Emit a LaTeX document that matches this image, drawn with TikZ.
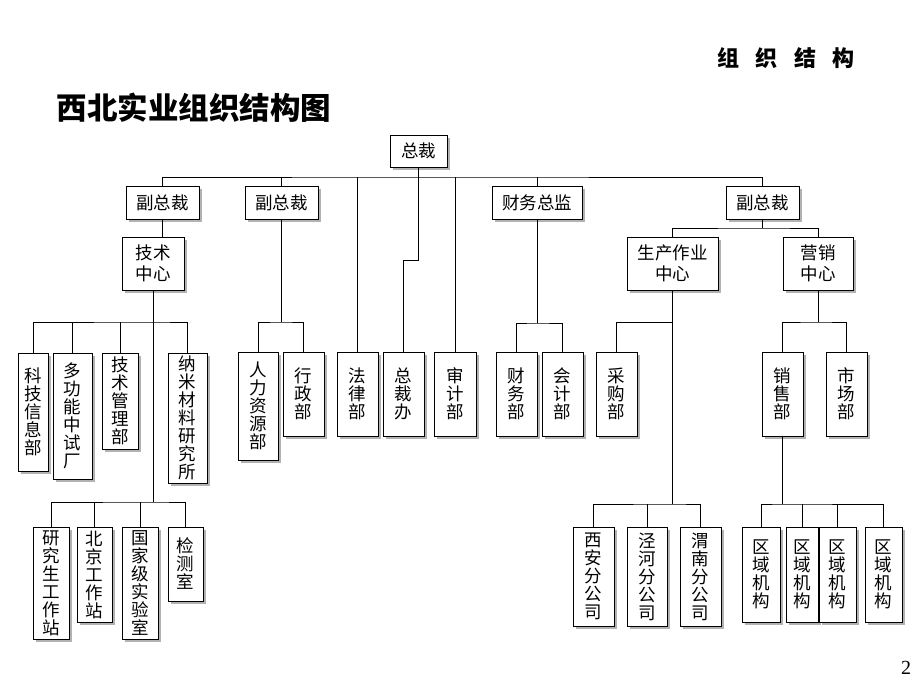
\documentclass[tikz,border=0pt]{standalone}
\usepackage{fontspec}
\setmainfont{Liberation Serif}
\newfontfamily\cjk{Noto Sans CJK SC}
\usetikzlibrary{shadows}

\begin{document}
\begin{tikzpicture}[
  x=1pt, y=-1pt,
  line width=0.9pt,
  box/.style={draw, fill=white, line width=0.8pt, inner sep=0pt, align=center,
    font=\cjk\fontsize{17.5}{21}\selectfont,
    drop shadow={shadow xshift=2.5pt, shadow yshift=-2.5pt, fill=gray!60, opacity=1}},
  vbox/.style={box, font=\cjk\fontsize{17.5}{18}\selectfont},
  link/.style={draw, line width=0.9pt}
]
\useasboundingbox (0,0) rectangle (920,690);

% Titles
\node[font=\cjk\bfseries\fontsize{22}{22}\selectfont] (sec) at (786,58)
  {组\hspace{0.75em}织\hspace{0.75em}结\hspace{0.75em}构};
\node[font=\cjk\bfseries\fontsize{30.5}{30.5}\selectfont, anchor=west] (title) at (53,108)
  {西北实业组织结构图};
\node[font=\fontsize{20}{20}\selectfont] (pg) at (906,668) {2};

% Top levels
\node[box, minimum width=57, minimum height=32] (zc)   at (418.5,151) {总裁};
\node[box, minimum width=73, minimum height=33] (fzc1) at (162.5,202.5) {副总裁};
\node[box, minimum width=73, minimum height=33] (fzc2) at (281.5,202.5) {副总裁};
\node[box, minimum width=90, minimum height=33] (cwzj) at (537,202.5) {财务总监};
\node[box, minimum width=73, minimum height=33] (fzc3) at (762.5,202.5) {副总裁};
\node[box, minimum width=62, minimum height=53] (jszx) at (153,263.5) {技术\\中心};
\node[box, minimum width=91, minimum height=53] (sczx) at (672.5,263.5) {生产作业\\中心};
\node[box, minimum width=70, minimum height=53] (yxzx) at (818,263.5) {营销\\中心};

% Departments
\node[vbox, minimum width=30, minimum height=118] (kjxx) at (33,412)    {科\\技\\信\\息\\部};
\node[vbox, minimum width=39, minimum height=126] (dgn)  at (72.5,416)  {多\\功\\能\\中\\试\\厂};
\node[vbox, minimum width=36, minimum height=96]  (jsgl) at (120,401)   {技\\术\\管\\理\\部};
\node[vbox, minimum width=39, minimum height=130] (nmcl) at (187.5,418) {纳\\米\\材\\料\\研\\究\\所};
\node[vbox, minimum width=40, minimum height=108] (rlzy) at (258,406)   {人\\力\\资\\源\\部};
\node[vbox, minimum width=41, minimum height=84]  (xzb)  at (303.5,394) {行\\政\\部};
\node[vbox, minimum width=41, minimum height=84]  (flb)  at (357.5,394) {法\\律\\部};
\node[vbox, minimum width=41, minimum height=84]  (zcb)  at (403.5,394) {总\\裁\\办};
\node[vbox, minimum width=42, minimum height=84]  (sjb)  at (455,394)   {审\\计\\部};
\node[vbox, minimum width=41, minimum height=84]  (cwb)  at (516.5,394) {财\\务\\部};
\node[vbox, minimum width=41, minimum height=84]  (kjb)  at (562.5,394) {会\\计\\部};
\node[vbox, minimum width=41, minimum height=84]  (cgb)  at (616.5,394) {采\\购\\部};
\node[vbox, minimum width=41, minimum height=84]  (xsb)  at (782.5,394) {销\\售\\部};
\node[vbox, minimum width=41, minimum height=84]  (scb)  at (846.5,394) {市\\场\\部};

% Third level
\node[vbox, minimum width=36, minimum height=112] (yjs)  at (51,583)    {研\\究\\生\\工\\作\\站};
\node[vbox, minimum width=35, minimum height=95]  (bjgz) at (94.5,574.5) {北\\京\\工\\作\\站};
\node[vbox, minimum width=36, minimum height=112] (gjsy) at (140,583)   {国\\家\\级\\实\\验\\室};
\node[vbox, minimum width=35, minimum height=74]  (jcs)  at (185.5,564) {检\\测\\室};
\node[vbox, minimum width=41, minimum height=99]  (xafg) at (593.5,576.5) {西\\安\\分\\公\\司};
\node[vbox, minimum width=40, minimum height=99]  (jhfg) at (647,576.5)   {泾\\河\\分\\公\\司};
\node[vbox, minimum width=41, minimum height=99]  (wnfg) at (700.5,576.5) {渭\\南\\分\\公\\司};
\node[vbox, minimum width=38, minimum height=95]  (qy1)  at (761,574.5)   {区\\域\\机\\构};
\node[vbox, minimum width=32, minimum height=95]  (qy2)  at (802,574.5)   {区\\域\\机\\构};
\node[vbox, minimum width=37, minimum height=95]  (qy3)  at (837.5,574.5) {区\\域\\机\\构};
\node[vbox, minimum width=37, minimum height=95]  (qy4)  at (883.5,574.5) {区\\域\\机\\构};

% Bus points
\coordinate (top)    at (418.5,177);
\coordinate (zcjog)  at (418.5,260);
\coordinate (jsbus)  at (153,322);
\coordinate (jsbus2) at (153,502);
\coordinate (fz2bus) at (281.5,322);
\coordinate (cwbus)  at (537,323);
\coordinate (fz3bus) at (762.5,228);
\coordinate (scbus)  at (672.5,322);
\coordinate (scbus2) at (672.5,504);
\coordinate (yxbus)  at (818,322);
\coordinate (xsbus)  at (782.5,504);

% Connectors
\path[link] (fzc1.north) |- (top) -| (fzc3.north);
\path[link] (zc.south) -- (top);
\path[link] (fzc2.north) -- (fzc2.north |- top);
\path[link] (cwzj.north) -- (cwzj.north |- top);
\path[link] (flb.north) -- (flb.north |- top);
\path[link] (sjb.north) -- (sjb.north |- top);
\path[link] (top) -- (zcjog) -| (zcb.north);

\path[link] (fzc1.south) -- (fzc1.south |- jszx.north);
\path[link] (jszx.south) -- (jsbus2);
\path[link] (kjxx.north) |- (jsbus) -| (nmcl.north);
\path[link] (dgn.north) -- (dgn.north |- jsbus);
\path[link] (jsgl.north) -- (jsgl.north |- jsbus);
\path[link] (yjs.north) |- (jsbus2) -| (jcs.north);
\path[link] (bjgz.north) -- (bjgz.north |- jsbus2);
\path[link] (gjsy.north) -- (gjsy.north |- jsbus2);

\path[link] (fzc2.south) -- (fz2bus);
\path[link] (rlzy.north) |- (fz2bus) -| (xzb.north);

\path[link] (cwzj.south) -- (cwbus);
\path[link] (cwb.north) |- (cwbus) -| (kjb.north);

\path[link] (fzc3.south) -- (fz3bus);
\path[link] (sczx.north) |- (fz3bus) -| (yxzx.north);

\path[link] (sczx.south) -- (scbus2);
\path[link] (cgb.north) |- (scbus);
\path[link] (xafg.north) |- (scbus2) -| (wnfg.north);
\path[link] (jhfg.north) -- (jhfg.north |- scbus2);

\path[link] (yxzx.south) -- (yxbus);
\path[link] (xsb.north) |- (yxbus) -| (scb.north);
\path[link] (xsb.south) -- (xsbus);
\path[link] (qy1.north) |- (xsbus) -| (qy4.north);
\path[link] (qy2.north) -- (qy2.north |- xsbus);
\path[link] (qy3.north) -- (qy3.north |- xsbus);

\end{tikzpicture}
\end{document}
